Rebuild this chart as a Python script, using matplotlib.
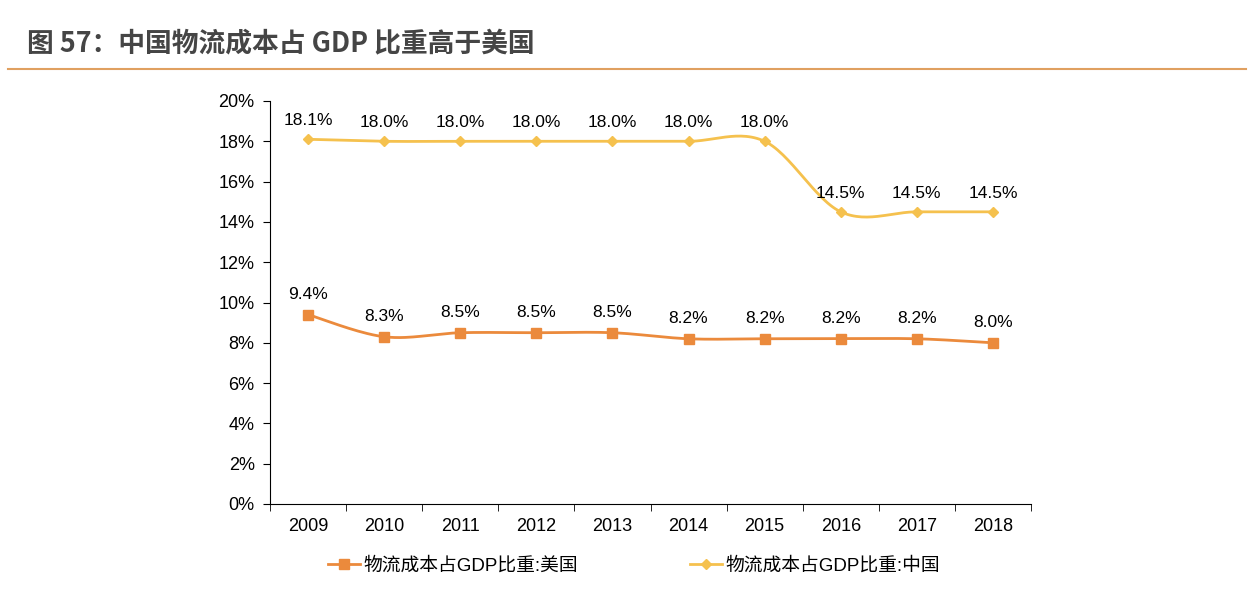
import numpy as np
import matplotlib.pyplot as plt
from matplotlib.lines import Line2D

plt.rcParams['font.family'] = ['Liberation Sans', 'Noto Sans CJK SC', 'DejaVu Sans']

# data
years = ['2009', '2010', '2011', '2012', '2013', '2014', '2015', '2016', '2017', '2018']
us = [9.4, 8.3, 8.5, 8.5, 8.5, 8.2, 8.2, 8.2, 8.2, 8.0]
cn = [18.1, 18.0, 18.0, 18.0, 18.0, 18.0, 18.0, 14.5, 14.5, 14.5]
us_name = '物流成本占GDP比重:美国'
cn_name = '物流成本占GDP比重:中国'
title = '图 57：中国物流成本占 GDP 比重高于美国'

c_us = '#EB8A3C'
c_cn = '#F5C14E'


def smooth(x, y, n=30):
    # excel-like smoothed line (bezier through points)
    x = np.asarray(x, float)
    y = np.asarray(y, float)
    px = np.concatenate([[x[0]], x, [x[-1]]])
    py = np.concatenate([[y[0]], y, [y[-1]]])
    xs, ys = [], []
    t = np.linspace(0, 1, n)
    for i in range(len(x) - 1):
        p0 = np.array([px[i + 1], py[i + 1]])
        p3 = np.array([px[i + 2], py[i + 2]])
        p1 = p0 + (np.array([px[i + 2], py[i + 2]]) - np.array([px[i], py[i]])) / 6
        p2 = p3 - (np.array([px[i + 3], py[i + 3]]) - np.array([px[i + 1], py[i + 1]])) / 6
        b = ((1 - t) ** 3)[:, None] * p0 + (3 * (1 - t) ** 2 * t)[:, None] * p1 \
            + (3 * (1 - t) * t ** 2)[:, None] * p2 + (t ** 3)[:, None] * p3
        xs.extend(b[:, 0])
        ys.extend(b[:, 1])
    return xs, ys


fig = plt.figure(figsize=(12.56, 5.9), dpi=100)
fig.text(27 / 1256, 1 - 43 / 590, title, fontsize=19.3, fontweight='bold',
         color='#454545', va='center', ha='left', family=['Noto Sans CJK SC'])
fig.add_artist(Line2D([8 / 1256, 1246 / 1256], [1 - 69 / 590, 1 - 69 / 590],
                      color='#E0A060', lw=1.5))

ax = fig.add_axes([270 / 1256, 1 - 504 / 590, 761 / 1256, 403 / 590])
x = np.arange(len(years))

sx, sy = smooth(x, us)
ax.plot(sx, sy, color=c_us, lw=2)
ax.plot(x, us, ls='none', marker='s', ms=7, color=c_us)
sx, sy = smooth(x, cn)
ax.plot(sx, sy, color=c_cn, lw=2)
ax.plot(x, cn, ls='none', marker='D', ms=5.5, color=c_cn)

for i in range(len(x)):
    ax.annotate(f'{us[i]:.1f}%', (x[i], us[i]), xytext=(0, 9), textcoords='offset points',
                ha='center', va='bottom', fontsize=12.5)
    ax.annotate(f'{cn[i]:.1f}%', (x[i], cn[i]), xytext=(0, 8), textcoords='offset points',
                ha='center', va='bottom', fontsize=12.5)

ax.set_xlim(-0.5, len(years) - 0.5)
ax.set_ylim(0, 20)
ax.set_yticks(np.arange(0, 21, 2))
ax.set_yticklabels([f'{v}%' for v in range(0, 21, 2)])
ax.set_xticks(x)
ax.set_xticklabels(years)
ax.set_xticks(np.arange(-0.5, len(years), 1), minor=True)
ax.tick_params(axis='x', which='major', length=0, pad=10, labelsize=13)
ax.tick_params(axis='x', which='minor', length=5, direction='out')
ax.tick_params(axis='y', length=5, labelsize=13, pad=6)
for s in ['top', 'right']:
    ax.spines[s].set_visible(False)

h1 = Line2D([], [], color=c_us, lw=2, marker='s', ms=7)
h2 = Line2D([], [], color=c_cn, lw=2, marker='D', ms=5.5)
fig.legend([h1, h2], [us_name, cn_name], loc='center', bbox_to_anchor=(634 / 1256, 1 - 566 / 590),
           ncol=2, frameon=False, fontsize=13.5, columnspacing=6, handlelength=1.7,
           handletextpad=0.15, borderpad=0)

fig.savefig('out.png', dpi=100)
